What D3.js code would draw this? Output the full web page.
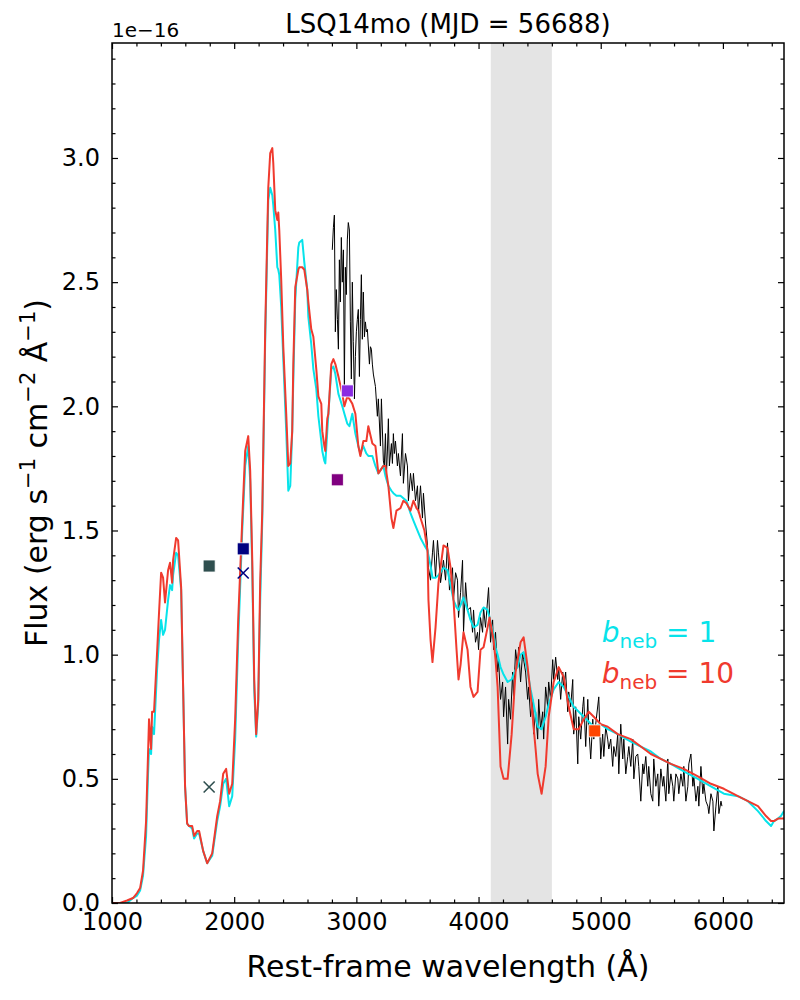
<!DOCTYPE html>
<html>
<head>
<meta charset="utf-8">
<script src="https://cdn.jsdelivr.net/npm/d3@7"></script>
<style>
  body { margin: 0; background: #fff; }
  svg { font-family: 'DejaVu Sans', sans-serif; }
</style>
</head>
<body>
<div id="chart-container"></div>
<script>
// model spectra, shared wavelength grid (Angstrom) and flux in units of 1e-16
const modelWave = [1000, 1066, 1123, 1172, 1205, 1230, 1254, 1279, 1295, 1303, 1320, 1328, 1344, 1369, 1385, 1402, 1418, 1434, 1459, 1475, 1492, 1500,
  1525, 1541, 1566, 1582, 1598, 1615, 1631, 1656, 1672, 1697, 1713, 1746, 1779, 1820, 1861, 1885, 1910, 1934, 1959, 1984, 2008,
  2033, 2066, 2090, 2115, 2131, 2148, 2164, 2180, 2197, 2213, 2230, 2254, 2279, 2295, 2312, 2320, 2336, 2353, 2361, 2369, 2385, 2402, 2426, 2443, 2459, 2475, 2484, 2500,
  2525, 2533, 2557, 2574, 2598, 2607, 2631, 2648, 2672, 2689, 2713, 2721, 2738, 2746, 2762, 2771, 2795, 2812, 2828, 2853, 2885, 2902, 2926, 2943, 2967, 2992, 3016, 3033,
  3057, 3082, 3098, 3131, 3156, 3180, 3221, 3238, 3262, 3287, 3303, 3328, 3361, 3385, 3410, 3443, 3467, 3492, 3508, 3525, 3557,
  3582, 3590, 3607, 3623, 3648, 3672, 3713, 3746, 3771, 3795, 3820, 3836, 3853, 3877, 3910, 3934, 3959, 3992, 4016, 4041, 4074, 4090,
  4123, 4139, 4156, 4180, 4205, 4238, 4271, 4303, 4320, 4344, 4369, 4402, 4426, 4443, 4467, 4484, 4516, 4549, 4574, 4615, 4656, 4697, 4738, 4779, 4820, 4861, 4902, 4943,
  5000, 5057, 5139, 5246, 5328, 5410, 5492, 5574, 5680, 5795, 5902, 6008, 6123, 6205, 6287, 6353, 6394, 6418, 6451, 6475, 6500]

// b_neb = 1
const fluxB1 = [0.00, 0.00, 0.00, 0.02, 0.03, 0.05, 0.11, 0.27, 0.52, 0.62, 0.60, 0.71, 0.68, 0.94, 1.06, 1.14, 1.08, 1.10, 1.22, 1.28, 1.26, 1.32,
  1.41, 1.40, 1.26, 0.87, 0.47, 0.32, 0.31, 0.30, 0.26, 0.28, 0.28, 0.21, 0.16, 0.19, 0.33, 0.39, 0.48, 0.50, 0.39, 0.43, 0.66,
  1.06, 1.50, 1.76, 1.84, 1.70, 1.34, 0.86, 0.67, 0.80, 1.22, 1.54, 2.27, 2.83, 2.88, 2.85, 2.81, 2.71, 2.56, 2.55, 2.53, 2.40, 2.19, 1.90, 1.66, 1.68, 1.90, 2.11, 2.43,
  2.64, 2.66, 2.67, 2.58, 2.47, 2.36, 2.25, 2.15, 2.07, 1.96, 1.86, 1.82, 1.78, 1.77, 1.90, 1.97, 2.15, 2.16, 2.13, 2.05, 2.00, 1.97, 1.93, 1.92, 1.97, 1.89, 1.84, 1.81,
  1.84, 1.81, 1.80, 1.80, 1.76, 1.73, 1.76, 1.72, 1.68, 1.66, 1.65, 1.64, 1.64, 1.63, 1.62, 1.57, 1.54, 1.51, 1.49, 1.47, 1.44,
  1.42, 1.40, 1.36, 1.31, 1.31, 1.32, 1.35, 1.34, 1.28, 1.22, 1.19, 1.18, 1.20, 1.23, 1.18, 1.14, 1.11, 1.12, 1.17, 1.19, 1.18, 1.15,
  1.08, 1.03, 1.00, 0.95, 0.92, 0.89, 0.90, 0.94, 0.95, 1.00, 1.01, 0.93, 0.86, 0.82, 0.76, 0.71, 0.70, 0.75, 0.80, 0.86, 0.89, 0.87, 0.83, 0.79, 0.77, 0.75, 0.73, 0.71,
  0.72, 0.70, 0.68, 0.65, 0.63, 0.61, 0.58, 0.56, 0.53, 0.50, 0.47, 0.44, 0.43, 0.41, 0.37, 0.33, 0.31, 0.33, 0.34, 0.35, 0.37]

// b_neb = 10
const fluxB10 = [0.00, 0.00, 0.01, 0.02, 0.04, 0.06, 0.13, 0.33, 0.60, 0.74, 0.62, 0.77, 0.77, 1.01, 1.17, 1.33, 1.31, 1.21, 1.34, 1.37, 1.29, 1.38,
  1.47, 1.46, 1.27, 0.87, 0.47, 0.32, 0.31, 0.31, 0.27, 0.29, 0.29, 0.21, 0.16, 0.20, 0.35, 0.41, 0.52, 0.54, 0.44, 0.48, 0.74,
  1.14, 1.54, 1.82, 1.88, 1.74, 1.38, 0.90, 0.68, 0.82, 1.30, 1.58, 2.31, 2.88, 3.02, 3.04, 2.98, 2.79, 2.75, 2.78, 2.71, 2.51, 2.24, 1.97, 1.76, 1.77, 1.90, 2.17, 2.48,
  2.55, 2.56, 2.56, 2.55, 2.47, 2.42, 2.31, 2.28, 2.15, 2.04, 2.01, 1.90, 1.84, 1.82, 1.95, 1.97, 2.17, 2.19, 2.17, 2.12, 2.05, 2.00, 2.04, 2.03, 2.01, 1.97, 1.84, 1.80,
  1.86, 1.86, 1.92, 1.85, 1.84, 1.73, 1.76, 1.76, 1.68, 1.55, 1.51, 1.58, 1.59, 1.62, 1.61, 1.58, 1.62, 1.59, 1.58, 1.55, 1.50,
  1.42, 1.22, 1.06, 0.97, 1.11, 1.29, 1.44, 1.43, 1.35, 1.22, 1.02, 0.90, 0.96, 1.09, 1.02, 0.87, 0.83, 0.85, 1.02, 1.03, 1.11, 1.15,
  1.06, 0.98, 0.87, 0.55, 0.50, 0.50, 0.68, 0.93, 0.98, 1.05, 1.07, 0.95, 0.84, 0.75, 0.62, 0.52, 0.44, 0.55, 0.75, 0.89, 0.95, 0.91, 0.79, 0.70, 0.70, 0.74, 0.77, 0.75,
  0.72, 0.71, 0.68, 0.66, 0.63, 0.60, 0.58, 0.56, 0.54, 0.51, 0.48, 0.46, 0.43, 0.41, 0.39, 0.35, 0.33, 0.33, 0.34, 0.34, 0.34]

// observed spectrum [wavelength, flux]
const observed = [[2803, 2.63], [2812, 2.72], [2820, 2.77], [2828, 2.30], [2836, 2.47], [2845, 2.35], [2853, 2.23], [2861, 2.59], [2869, 2.42], [2877, 2.68],
  [2885, 2.50], [2894, 2.63], [2902, 2.08], [2910, 2.56], [2918, 2.45], [2926, 2.67], [2934, 2.74], [2943, 2.71], [2951, 2.34], [2959, 2.11],
  [2967, 2.50], [2975, 2.26], [2984, 2.03], [2992, 2.20], [3000, 2.30], [3008, 2.35], [3016, 2.39], [3025, 2.12], [3033, 2.35], [3041, 2.53],
  [3049, 2.27], [3057, 2.46], [3066, 2.28], [3074, 2.34], [3082, 2.30], [3090, 2.31], [3107, 2.17], [3115, 2.24], [3123, 2.23], [3131, 2.17],
  [3139, 2.13], [3156, 2.08], [3172, 1.96], [3180, 2.03], [3197, 1.84], [3205, 2.03], [3221, 1.78], [3229, 1.76], [3238, 1.89], [3246, 1.72],
  [3254, 1.82], [3262, 1.95], [3270, 1.76], [3287, 1.85], [3295, 1.77], [3303, 1.89], [3311, 1.81], [3320, 1.86], [3336, 1.76], [3344, 1.81],
  [3353, 1.76], [3361, 1.72], [3377, 1.89], [3385, 1.69], [3402, 1.81], [3418, 1.76], [3426, 1.62], [3443, 1.73], [3459, 1.66], [3467, 1.73],
  [3484, 1.62], [3500, 1.68], [3508, 1.57], [3525, 1.68], [3541, 1.55], [3549, 1.65], [3566, 1.53], [3582, 1.44], [3590, 1.35], [3607, 1.30],
  [3623, 1.41], [3631, 1.46], [3648, 1.31], [3664, 1.46], [3672, 1.41], [3689, 1.29], [3713, 1.38], [3730, 1.30], [3746, 1.45], [3762, 1.26],
  [3787, 1.35], [3795, 1.22], [3812, 1.33], [3828, 1.30], [3836, 1.15], [3853, 1.25], [3869, 1.38], [3877, 1.09], [3894, 1.29], [3910, 1.18],
  [3934, 1.19], [3951, 1.09], [3959, 1.18], [3975, 1.05], [3992, 1.09], [4000, 1.02], [4016, 1.15], [4033, 1.09], [4041, 1.19], [4057, 1.11],
  [4074, 1.22], [4082, 1.27], [4098, 1.05], [4115, 1.14], [4123, 1.02], [4139, 1.09], [4156, 0.93], [4164, 0.98], [4180, 0.82], [4197, 0.89],
  [4205, 0.75], [4221, 0.87], [4238, 0.64], [4246, 0.82], [4262, 0.74], [4279, 0.93], [4287, 0.82], [4303, 1.02], [4320, 0.95], [4328, 1.03],
  [4344, 0.89], [4361, 1.01], [4369, 0.98], [4385, 0.93], [4402, 0.82], [4410, 0.87], [4426, 0.75], [4443, 0.82], [4451, 0.68], [4467, 0.77],
  [4484, 0.66], [4492, 0.82], [4508, 0.70], [4525, 0.77], [4533, 0.66], [4549, 0.87], [4566, 0.79], [4574, 0.89], [4590, 0.82], [4607, 0.98],
  [4615, 0.90], [4631, 0.99], [4648, 0.90], [4656, 0.95], [4672, 0.82], [4689, 0.93], [4697, 0.87], [4713, 0.93], [4730, 0.77], [4738, 0.85],
  [4754, 0.79], [4771, 0.90], [4779, 0.68], [4795, 0.79], [4812, 0.56], [4820, 0.75], [4836, 0.66], [4853, 0.79], [4861, 0.83], [4877, 0.63],
  [4894, 0.82], [4902, 0.71], [4918, 0.58], [4935, 0.74], [4943, 0.66], [4959, 0.72], [4984, 0.83], [5000, 0.58], [5016, 0.68], [5025, 0.59],
  [5041, 0.71], [5057, 0.66], [5066, 0.62], [5082, 0.66], [5098, 0.55], [5107, 0.63], [5123, 0.59], [5139, 0.68], [5148, 0.52], [5164, 0.72],
  [5180, 0.58], [5189, 0.66], [5205, 0.52], [5221, 0.59], [5230, 0.63], [5246, 0.55], [5262, 0.66], [5271, 0.50], [5287, 0.59], [5303, 0.60],
  [5311, 0.55], [5328, 0.41], [5344, 0.56], [5353, 0.52], [5369, 0.59], [5385, 0.47], [5393, 0.55], [5410, 0.44], [5426, 0.41], [5434, 0.58],
  [5451, 0.47], [5467, 0.52], [5475, 0.39], [5492, 0.54], [5508, 0.47], [5516, 0.51], [5533, 0.41], [5549, 0.58], [5557, 0.44], [5574, 0.52],
  [5590, 0.47], [5598, 0.41], [5615, 0.52], [5631, 0.50], [5639, 0.44], [5656, 0.52], [5672, 0.47], [5680, 0.55], [5697, 0.41], [5713, 0.47],
  [5721, 0.56], [5738, 0.60], [5754, 0.47], [5762, 0.51], [5779, 0.41], [5795, 0.47], [5803, 0.39], [5820, 0.55], [5836, 0.44], [5844, 0.48],
  [5861, 0.41], [5877, 0.39], [5885, 0.36], [5902, 0.44], [5918, 0.41], [5926, 0.29], [5943, 0.39], [5959, 0.47], [5967, 0.36], [5984, 0.41], [5992, 0.39]]

// photometry points
const photWave = [1795, 2074, 2844, 2926, 4951]
const photFlux = [1.357, 1.426, 1.704, 2.062, 0.693]
const photColor = ['#2f4f4f', '#000080', '#800080', '#8a2be2', '#ff4500']
// the two "x" points
const crossWave = [1795, 2074]
const crossFlux = [0.467, 1.329]
const crossColor = ['#2f4f4f', '#000080']

const bandRange = [4100, 4600]
const xTicks = [1000, 2000, 3000, 4000, 5000, 6000]
const yTicks = [0.0, 0.5, 1.0, 1.5, 2.0, 2.5, 3.0]
const legendLabels = ['1', '10']

const cyanColor = '#07e3ea'
const redColor = '#f03a2e'

// constants
const width = 800
const height = 1000
const margin = {left: 112, top: 43, right: 16, bottom: 97}
const plotWidth = width - margin.left - margin.right
const plotHeight = height - margin.top - margin.bottom
const tickFont = 24

const svg = d3.select('#chart-container')
  .append('svg')
  .attr('width', width)
  .attr('height', height)

const container = svg.append('g')
  .attr('transform', `translate(${margin.left}, ${margin.top})`)

const xScale = d3.scaleLinear().domain([1000, 6500]).range([0, plotWidth])
const yScale = d3.scaleLinear().domain([0, 3.463]).range([plotHeight, 0])

svg.append('defs').append('clipPath').attr('id', 'plot-clip')
  .append('rect').attr('width', plotWidth).attr('height', plotHeight)

// grey band
container.append('rect')
  .attr('x', xScale(bandRange[0]))
  .attr('y', 0)
  .attr('width', xScale(bandRange[1]) - xScale(bandRange[0]))
  .attr('height', plotHeight)
  .attr('fill', '#e4e4e4')

const plot = container.append('g').attr('clip-path', 'url(#plot-clip)')

const line = d3.line()
  .x(d => xScale(d[0]))
  .y(d => yScale(d[1]))

plot.append('path')
  .datum(observed)
  .attr('d', line)
  .attr('fill', 'none')
  .attr('stroke', '#000')
  .attr('stroke-width', 1)

plot.append('path')
  .datum(modelWave.map((w, i) => [w, fluxB1[i]]))
  .attr('d', line)
  .attr('fill', 'none')
  .attr('stroke', cyanColor)
  .attr('stroke-width', 2)
  .attr('stroke-linejoin', 'round')

plot.append('path')
  .datum(modelWave.map((w, i) => [w, fluxB10[i]]))
  .attr('d', line)
  .attr('fill', 'none')
  .attr('stroke', redColor)
  .attr('stroke-width', 2)
  .attr('stroke-linejoin', 'round')

// photometry squares
const sq = 12
plot.selectAll('rect.phot')
  .data(photWave)
  .join('rect')
  .attr('class', 'phot')
  .attr('x', (d, i) => xScale(d) - sq / 2)
  .attr('y', (d, i) => yScale(photFlux[i]) - sq / 2)
  .attr('width', sq)
  .attr('height', sq)
  .attr('fill', (d, i) => photColor[i])
  .attr('stroke', '#fff')
  .attr('stroke-width', 0.8)

// x markers
const cr = 5.5
plot.selectAll('path.cross')
  .data(crossWave)
  .join('path')
  .attr('class', 'cross')
  .attr('transform', (d, i) => `translate(${xScale(d)}, ${yScale(crossFlux[i])})`)
  .attr('d', `M${-cr},${-cr}L${cr},${cr}M${-cr},${cr}L${cr},${-cr}`)
  .attr('stroke', (d, i) => crossColor[i])
  .attr('stroke-width', 1.6)
  .attr('fill', 'none')

// axes, ticks pointing inwards on all four sides
const minorX = d3.range(1000, 6501, 200).filter(v => v % 1000 !== 0)
const minorY = d3.range(0, 35).map(v => v / 10).filter(v => Math.round(v * 10) % 5 !== 0)

function styleAxis (g) {
  g.select('.domain').remove()
  g.selectAll('line').attr('stroke', '#000').attr('stroke-width', 1.2)
  g.selectAll('text').attr('font-size', tickFont).attr('fill', '#000').attr('font-family', 'DejaVu Sans')
}

container.append('g')
  .attr('transform', `translate(0, ${plotHeight})`)
  .call(d3.axisBottom(xScale).tickValues(xTicks).tickSize(-6).tickPadding(10).tickFormat(d3.format('d')))
  .call(styleAxis)
container.append('g')
  .attr('transform', `translate(0, ${plotHeight})`)
  .call(d3.axisBottom(xScale).tickValues(minorX).tickSize(-3.5).tickFormat(''))
  .call(styleAxis)
container.append('g')
  .call(d3.axisTop(xScale).tickValues(xTicks).tickSize(-6).tickFormat(''))
  .call(styleAxis)
container.append('g')
  .call(d3.axisTop(xScale).tickValues(minorX).tickSize(-3.5).tickFormat(''))
  .call(styleAxis)

container.append('g')
  .call(d3.axisLeft(yScale).tickValues(yTicks).tickSize(-6).tickPadding(12).tickFormat(d3.format('.1f')))
  .call(styleAxis)
container.append('g')
  .call(d3.axisLeft(yScale).tickValues(minorY).tickSize(-3.5).tickFormat(''))
  .call(styleAxis)
container.append('g')
  .attr('transform', `translate(${plotWidth}, 0)`)
  .call(d3.axisRight(yScale).tickValues(yTicks).tickSize(-6).tickFormat(''))
  .call(styleAxis)
container.append('g')
  .attr('transform', `translate(${plotWidth}, 0)`)
  .call(d3.axisRight(yScale).tickValues(minorY).tickSize(-3.5).tickFormat(''))
  .call(styleAxis)

// frame
container.append('rect')
  .attr('width', plotWidth)
  .attr('height', plotHeight)
  .attr('fill', 'none')
  .attr('stroke', '#000')
  .attr('stroke-width', 1.5)

// texts
container.append('text')
  .attr('x', plotWidth / 2)
  .attr('y', -10)
  .attr('text-anchor', 'middle')
  .attr('font-size', 26)
  .text('LSQ14mo (MJD = 56688)')

container.append('text')
  .attr('x', 0)
  .attr('y', -6)
  .attr('font-size', 20)
  .text('1e\u221216')

container.append('text')
  .attr('x', plotWidth / 2)
  .attr('y', plotHeight + 74)
  .attr('text-anchor', 'middle')
  .attr('font-size', 30)
  .text('Rest-frame wavelength (Å)')

const ylab = svg.append('text')
  .attr('transform', `translate(47, ${margin.top + plotHeight / 2}) rotate(-90)`)
  .attr('text-anchor', 'middle')
  .attr('font-size', 30)
ylab.append('tspan').text('Flux (erg s')
ylab.append('tspan').attr('font-size', 21).attr('dy', -12).text('\u22121')
ylab.append('tspan').attr('dy', 12).text(' cm')
ylab.append('tspan').attr('font-size', 21).attr('dy', -12).text('\u22122')
ylab.append('tspan').attr('dy', 12).text(' Å')
ylab.append('tspan').attr('font-size', 21).attr('dy', -12).text('\u22121')
ylab.append('tspan').attr('dy', 12).text(')')

// legend text
const legendColors = [cyanColor, redColor]
legendLabels.forEach((lab, i) => {
  const t = container.append('text')
    .attr('x', xScale(5000) + 1)
    .attr('y', yScale(0.0) - 261 + i * 41)
    .attr('font-size', 28)
    .attr('fill', legendColors[i])
  t.append('tspan').attr('font-style', 'italic').text('b')
  t.append('tspan').attr('font-size', 20).attr('dy', 6).text('neb')
  t.append('tspan').attr('dy', -6).text(' = ' + lab)
})
</script>
</body>
</html>
